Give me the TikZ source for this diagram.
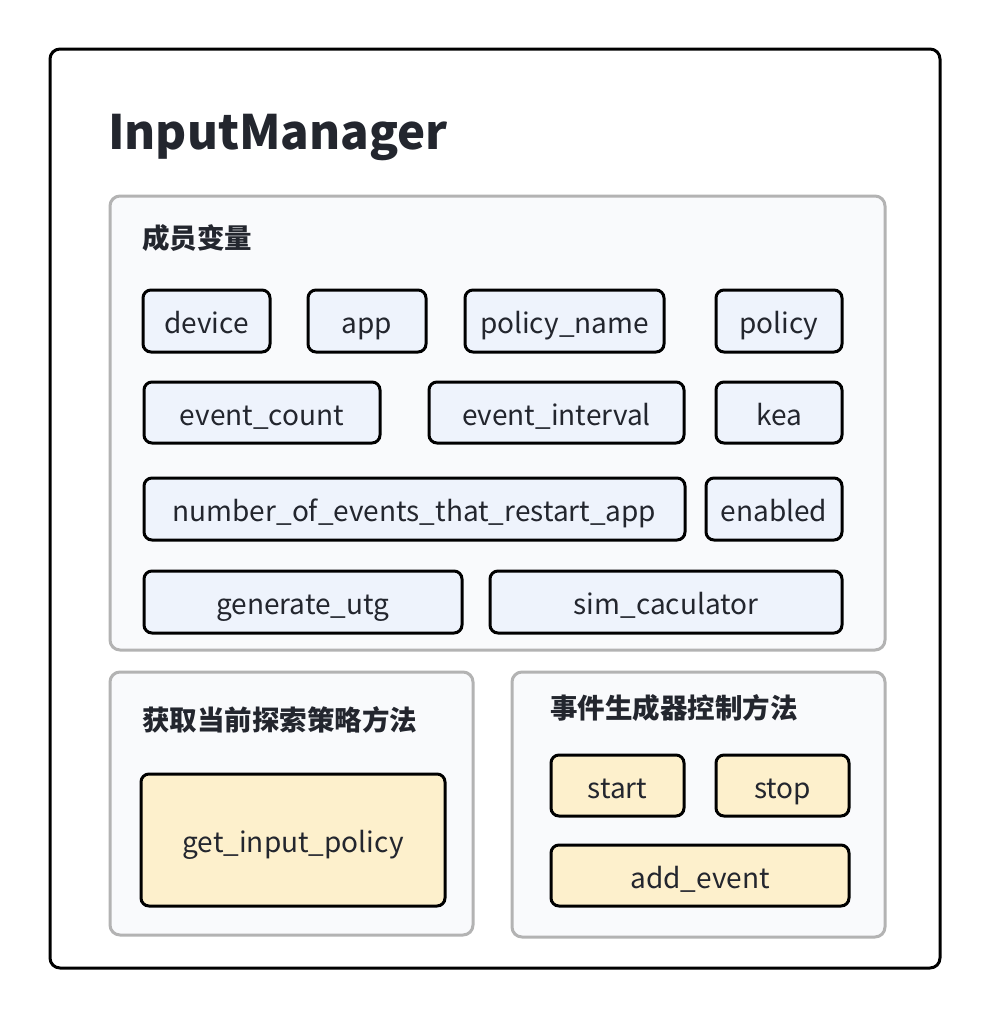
\documentclass[tikz,border=0pt]{standalone}
\usepackage{fontspec}
\setmainfont{Noto Sans CJK SC}
\definecolor{ink}{HTML}{23262E}
\definecolor{secfill}{HTML}{F9FAFC}
\definecolor{secline}{HTML}{B3B3B3}
\definecolor{bluefill}{HTML}{EEF3FC}
\definecolor{yelfill}{HTML}{FDF0CC}
\tikzset{
  outerbox/.style={draw=black, line width=3pt, rounded corners=10pt, fill=white},
  secbox/.style={draw=secline, line width=3pt, rounded corners=10pt, fill=secfill},
  varbox/.style={draw=black, line width=3pt, rounded corners=8pt, fill=bluefill, inner sep=0pt, text height=25pt, text depth=0pt, font=\fontsize{28}{32}\selectfont, text=ink},
  methbox/.style={varbox, fill=yelfill},
  seclabel/.style={anchor=west, inner sep=0pt, font=\fontsize{27.5}{31}\selectfont\bfseries, text=ink},
}
\begin{document}
\begin{tikzpicture}[x=1pt, y=1pt]
\useasboundingbox (0,0) rectangle (990,-1020);
\fill[white] (0,0) rectangle (990,-1020);
\draw[outerbox] (50,-49) rectangle (940,-968);
\node[anchor=base west, inner sep=0pt, font=\fontsize{47.4}{56}\selectfont\bfseries, text=ink] (title) at (108,-149) {InputManager};

% section 1
\draw[secbox] (110,-196) rectangle (885,-650);
\node[seclabel] (l1) at (142,-238) {成员变量};
\node[varbox, minimum width=127pt, minimum height=62pt] (device) at (206.5,-321) {device};
\node[varbox, minimum width=118pt, minimum height=62pt] (app) at (367,-321) {app};
\node[varbox, minimum width=199pt, minimum height=62pt] (pname) at (564.5,-321) {policy\_name};
\node[varbox, minimum width=126pt, minimum height=62pt] (policy) at (779,-321) {policy};
\node[varbox, minimum width=236pt, minimum height=61pt] (ecount) at (262,-412.5) {event\_count};
\node[varbox, minimum width=255pt, minimum height=61pt] (einterval) at (556.5,-412.5) {event\_interval};
\node[varbox, minimum width=126pt, minimum height=61pt] (kea) at (779,-412.5) {kea};
\node[varbox, minimum width=541pt, minimum height=62pt] (nevents) at (414.5,-509) {number\_of\_events\_that\_restart\_app};
\node[varbox, minimum width=136pt, minimum height=62pt] (enabled) at (774,-509) {enabled};
\node[varbox, minimum width=318pt, minimum height=62pt] (gutg) at (303,-602) {generate\_utg};
\node[varbox, minimum width=352pt, minimum height=62pt] (simc) at (666,-602) {sim\_caculator};

% section 2
\draw[secbox] (110,-672) rectangle (473,-935);
\node[seclabel] (l2) at (142,-720) {获取当前探索策略方法};
\node[methbox, minimum width=304pt, minimum height=132pt] (gip) at (293,-840) {get\_input\_policy};

% section 3
\draw[secbox] (512,-672) rectangle (885,-937);
\node[seclabel] (l3) at (550,-708) {事件生成器控制方法};
\node[methbox, minimum width=133pt, minimum height=61pt] (start) at (617.5,-785.5) {start};
\node[methbox, minimum width=133pt, minimum height=61pt] (stop) at (782.5,-785.5) {stop};
\node[methbox, minimum width=298pt, minimum height=61pt] (addev) at (700,-875.5) {add\_event};
\end{tikzpicture}
\end{document}
